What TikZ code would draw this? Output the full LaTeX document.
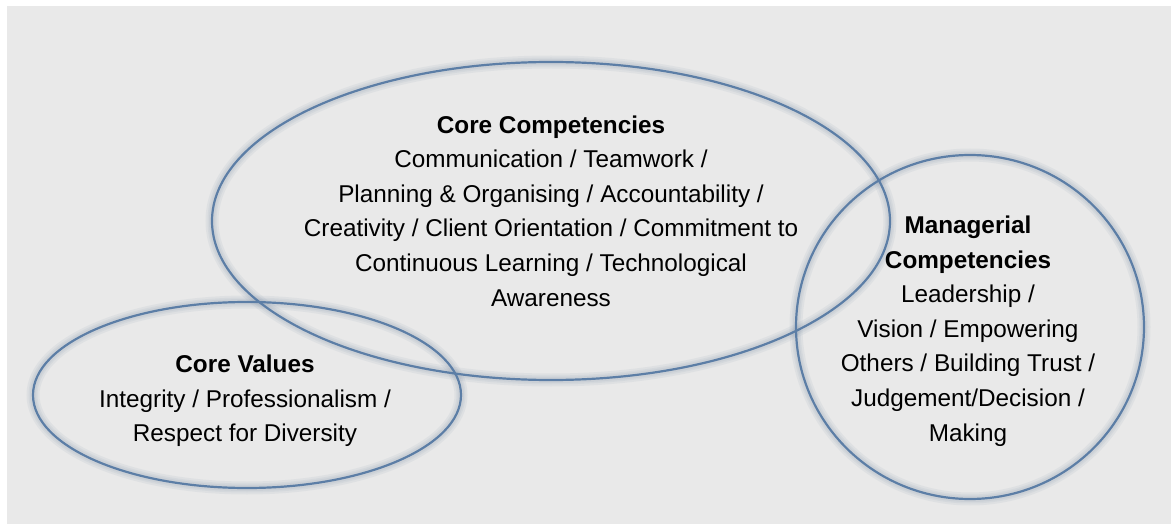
\documentclass[tikz,border=0pt]{standalone}
\usepackage{fontspec}
\setmainfont{Liberation Sans}
\usepackage{tikz}
\usetikzlibrary{positioning}
\definecolor{RingBlue}{RGB}{92,126,166}
\definecolor{PanelGrey}{RGB}{233,233,233}
\tikzset{
    ring/.style={draw=RingBlue, line width=2.2pt},
    glow/.style={draw=RingBlue!70!gray, opacity=0.08},
    blurb/.style={align=center, inner sep=0pt, text=black, font=\fontsize{24.3}{34.6}\selectfont}
}

\begin{document}
\begin{tikzpicture}[x=1pt, y=-1pt]
					\useasboundingbox (0,0) rectangle (1171,524);
					\fill[PanelGrey] (7,6) rectangle (1171,524);
					
					% soft halo round the three rings
					\foreach \w in {13,9,6} {
						\draw[glow, line width=\w pt] (551,221) ellipse [x radius=339, y radius=159];
						\draw[glow, line width=\w pt] (247,395) ellipse [x radius=214, y radius=93];
						\draw[glow, line width=\w pt] (970,327) ellipse [x radius=174, y radius=172];
					}
					
					\draw[ring] (551,221) ellipse [x radius=339, y radius=159];
					\draw[ring] (247,395) ellipse [x radius=214, y radius=93];
					\draw[ring] (970,327) ellipse [x radius=174, y radius=172];
					
					\node[blurb] (cc) at (551,211) {\textbf{Core Competencies}\\Communication / Teamwork /\\Planning \& Organising / Accountability /\\Creativity / Client Orientation / Commitment to\\Continuous Learning / Technological\\Awareness};
					\node[blurb] (cv) at (245,401) {\textbf{Core Values}\\Integrity / Professionalism /\\Respect for Diversity};
					\node[blurb] (mc) at (968,331) {\textbf{Managerial}\\\textbf{Competencies}\\Leadership /\\Vision / Empowering\\Others / Building Trust /\\Judgement/Decision /\\Making};
				\end{tikzpicture}
\end{document}
